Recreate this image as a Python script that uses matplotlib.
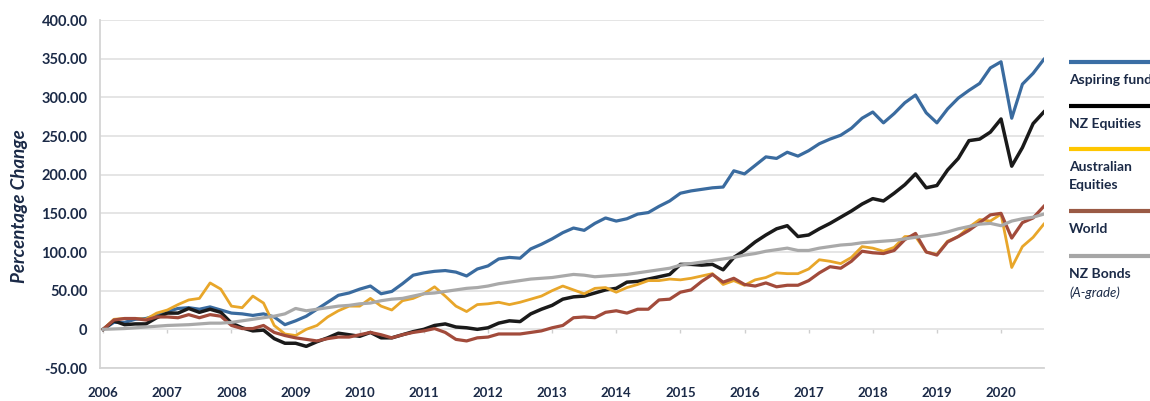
import numpy as np
import matplotlib
matplotlib.use("Agg")
import matplotlib.pyplot as plt
from matplotlib.lines import Line2D
from matplotlib.ticker import FuncFormatter

plt.rcParams["font.family"] = ["Lato", "DejaVu Sans"]

# bi-monthly observations, Jan 2006 -> Sep 2020 (fractional years)
years = 2006 + np.arange(89) / 6.0

aspiring = [0, 9, 9, 13, 14, 18, 23, 27, 28, 26, 29, 25,
            21, 20, 18, 20, 16, 6, 11, 17, 26, 35, 44, 47,
            52, 56, 46, 49, 59, 70, 73, 75, 76, 74, 69, 78,
            82, 91, 93, 92, 104, 110, 117, 125, 131, 128, 137, 144,
            140, 143, 149, 151, 159, 166, 176, 179, 181, 183, 184, 205,
            201, 212, 223, 221, 229, 224, 231, 240, 246, 251, 260, 273,
            281, 267, 279, 293, 303, 280, 267, 285, 299, 309, 318, 338,
            346, 273, 317, 331, 349]

nz_equities = [0, 11, 6, 7, 7, 15, 21, 21, 27, 22, 26, 22,
               8, 2, -2, -1, -12, -18, -18, -22, -16, -11, -5, -7,
               -9, -4, -11, -11, -7, -3, 0, 5, 7, 3, 2, 0,
               2, 8, 11, 10, 20, 26, 31, 39, 42, 43, 47, 51,
               53, 61, 62, 65, 68, 71, 84, 84, 83, 84, 77, 93,
               102, 113, 122, 130, 134, 120, 122, 130, 137, 145, 153, 162,
               169, 166, 176, 187, 201, 183, 186, 206, 221, 244, 246, 255,
               272, 211, 235, 266, 281]

aus_equities = [0, 13, 14, 14, 13, 21, 25, 32, 38, 40, 60, 52,
                30, 28, 43, 34, 5, -6, -8, 0, 5, 16, 24, 30,
                30, 40, 30, 25, 37, 40, 46, 55, 43, 30, 23, 32,
                33, 35, 32, 35, 39, 43, 50, 56, 51, 46, 53, 54,
                48, 54, 58, 63, 63, 65, 64, 66, 69, 72, 58, 63,
                57, 64, 67, 73, 72, 72, 78, 90, 88, 85, 93, 107,
                105, 101, 106, 120, 120, 100, 97, 114, 120, 132, 142, 140,
                149, 80, 107, 119, 136]

world = [0, 12, 14, 14, 12, 16, 16, 15, 19, 15, 19, 17,
         5, 1, 1, 5, -4, -8, -11, -13, -15, -12, -10, -10,
         -7, -4, -7, -11, -7, -4, -2, 1, -4, -13, -15, -11,
         -10, -6, -6, -6, -4, -2, 2, 5, 15, 16, 15, 22,
         24, 21, 26, 26, 38, 39, 48, 51, 62, 71, 61, 66,
         58, 56, 60, 55, 57, 57, 63, 73, 81, 79, 88, 101,
         99, 98, 102, 116, 124, 100, 96, 113, 120, 128, 138, 148,
         150, 118, 138, 144, 159]

nz_bonds = [0, 0.5, 1, 2, 3, 4, 5, 5.5, 6, 7, 8, 8,
            9, 11, 13, 15, 17, 20, 27, 24, 26, 28, 30, 31,
            33, 34, 37, 39, 40, 43, 46, 47, 49, 51, 53, 54,
            56, 59, 61, 63, 65, 66, 67, 69, 71, 70, 68, 69,
            70, 71, 73, 75, 77, 79, 83, 85, 87, 89, 91, 93,
            96, 98, 101, 103, 105, 102, 102, 105, 107, 109, 110, 112,
            113, 114, 115, 117, 119, 121, 123, 126, 130, 133, 136, 137,
            134, 140, 143, 145, 149]

series = [
    ("Aspiring fund", aspiring, "#3A6B9F", "#3A6EA5", 2.3),
    ("NZ Equities", nz_equities, "#1A1A1A", "#000000", 2.5),
    ("Australian\nEquities", aus_equities, "#E8A62A", "#FFC600", 2.0),
    ("World", world, "#A24B3B", "#9A5A45", 2.3),
    ("NZ Bonds", nz_bonds, "#A9A9A9", "#A6A6A6", 2.3),
]

year_ticks = list(range(2006, 2021))
y_ticks = [-50, 0, 50, 100, 150, 200, 250, 300, 350, 400]

navy = "#1B2A47"
grid_c = "#E3E3E3"

fig = plt.figure(figsize=(11.5, 4.01), dpi=100)
ax = fig.add_axes([100 / 1150, 33 / 401, 944 / 1150, 348 / 401])

for name, vals, c, _, lw in series:
    ax.plot(years, vals, color=c, linewidth=lw, solid_joinstyle="round", zorder=3)

ax.set_xlim(2005.95, 2020.67)
ax.set_ylim(-50, 400)
ax.set_yticks(y_ticks)
ax.set_xticks(year_ticks)
ax.yaxis.set_major_formatter(FuncFormatter(lambda v, p: "0" if v == 0 else f"{v:.2f}"))
ax.grid(axis="y", color=grid_c, linewidth=1.3)
ax.set_axisbelow(True)

for s in ["top", "right"]:
    ax.spines[s].set_visible(False)
ax.spines["left"].set_color("#D4D4D4")
ax.spines["left"].set_linewidth(1.3)
ax.spines["bottom"].set_color("#D4D4D4")
ax.spines["bottom"].set_linewidth(1.3)

ax.tick_params(axis="y", length=0, pad=9, labelsize=10.5, labelcolor=navy)
ax.tick_params(axis="x", length=0, pad=14, labelsize=9.5, labelcolor=navy)
for lab in ax.get_xticklabels() + ax.get_yticklabels():
    lab.set_fontweight("bold")

# small tick marks on the zero line
zero_frac = (0 - (-50)) / (400 - (-50))
sec = ax.secondary_xaxis(zero_frac)
sec.set_xticks(year_ticks)
sec.set_xticklabels([])
sec.spines["bottom"].set_visible(False)
sec.tick_params(axis="x", direction="out", length=3, width=1, color="#CFCFCF")

ax.set_ylabel("Percentage Change", fontsize=13.5, fontweight="bold", fontstyle="italic",
              color=navy)
ax.yaxis.set_label_coords(-72 / 944, 0.465)

# legend drawn on the right, outside the plot area
leg_bar_y = [62, 106, 149, 211, 256]
leg_text_y = [80, 124, 176, 229, 274]
for (name, _, _, lc, _), by, ty in zip(series, leg_bar_y, leg_text_y):
    fig.add_artist(Line2D([1069 / 1150, 1.0], [1 - by / 401, 1 - by / 401],
                          color=lc, linewidth=3, solid_capstyle="butt"))
    fig.text(1069 / 1150, 1 - ty / 401, name, fontsize=10, fontweight="bold",
             color=navy, va="center", ha="left", linespacing=1.55)
fig.text(1069 / 1150, 1 - 293 / 401, "(A-grade)", fontsize=9.5, fontstyle="italic",
         color=navy, va="center", ha="left")

fig.savefig("out.png", dpi=100)
